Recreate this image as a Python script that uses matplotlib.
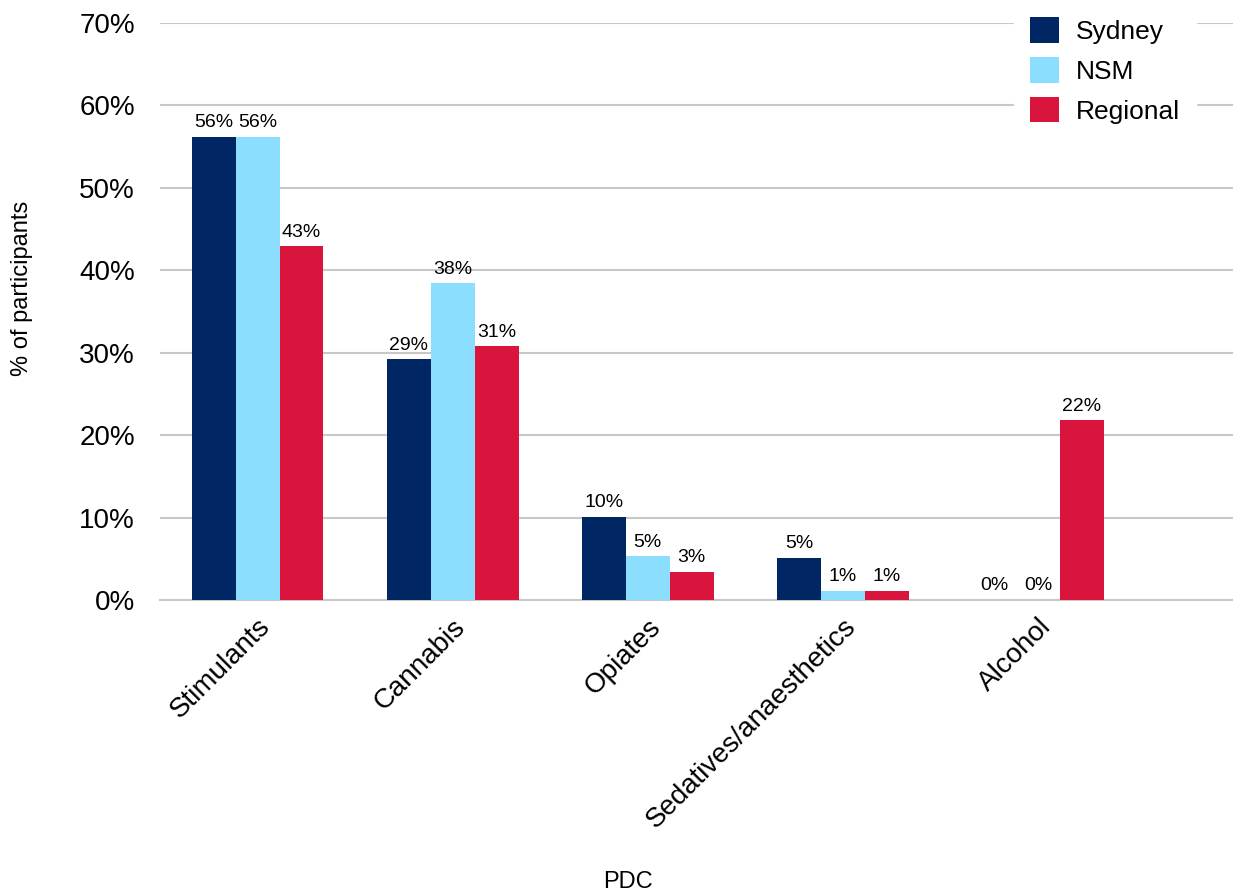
import matplotlib
matplotlib.use("Agg")
import matplotlib.pyplot as plt
import numpy as np

categories = ["Stimulants", "Cannabis", "Opiates", "Sedatives/anaesthetics", "Alcohol"]
series_names = ["Sydney", "NSM", "Regional"]
sydney = [56.2, 29.2, 10.1, 5.1, 0.0]
nsm = [56.2, 38.4, 5.3, 1.1, 0.0]
regional = [42.9, 30.8, 3.4, 1.1, 21.8]
colors = ["#002663", "#8CDEFF", "#DA153D"]

plt.rcParams['font.family'] = ['Liberation Sans', 'DejaVu Sans']

fig = plt.figure(figsize=(12.33, 8.92), dpi=100)
ax = fig.add_axes([0.1298, 0.3274, 0.8702, 0.6468])

x = np.arange(len(categories))
w = 0.225
for i, (name, vals) in enumerate(zip(series_names, [sydney, nsm, regional])):
    bars = ax.bar(x + (i - 1) * w, vals, width=w, color=colors[i], label=name, zorder=3)
    ax.bar_label(bars, labels=[f"{v:.0f}%" for v in vals], padding=4, fontsize=14, zorder=4)

ax.set_xlim(-0.5, 5.0)
ax.set_ylim(0, 70)
ax.set_yticks(np.arange(0, 71, 10))
ax.set_yticklabels([f"{t}%" for t in range(0, 71, 10)], fontsize=20)
ax.set_xticks(x)
ax.set_xticklabels(categories, rotation=45, ha='right', rotation_mode='anchor', fontsize=20)
ax.tick_params(axis='both', length=0)
ax.tick_params(axis='y', pad=18)
ax.tick_params(axis='x', pad=10)
ax.yaxis.grid(True, color='#c8c8c8', linewidth=1.5, zorder=0)
for s in ['top', 'right', 'left']:
    ax.spines[s].set_visible(False)
ax.spines['bottom'].set_color('#c8c8c8')
ax.spines['bottom'].set_linewidth(1.5)

ax.set_ylabel("% of participants", fontsize=17)
ax.yaxis.set_label_coords(-0.118, 0.54)
ax.set_xlabel("PDC", fontsize=17)
ax.xaxis.set_label_coords(0.436, -0.47)

leg = ax.legend(loc='upper right', bbox_to_anchor=(0.978, 1.06), fontsize=19, frameon=True,
                framealpha=1, edgecolor='white', facecolor='white',
                handlelength=1.1, handleheight=1.1, handletextpad=0.65, labelspacing=0.5, borderpad=0.6)
leg.set_zorder(10)

fig.savefig("out.png", dpi=100, facecolor='white')
